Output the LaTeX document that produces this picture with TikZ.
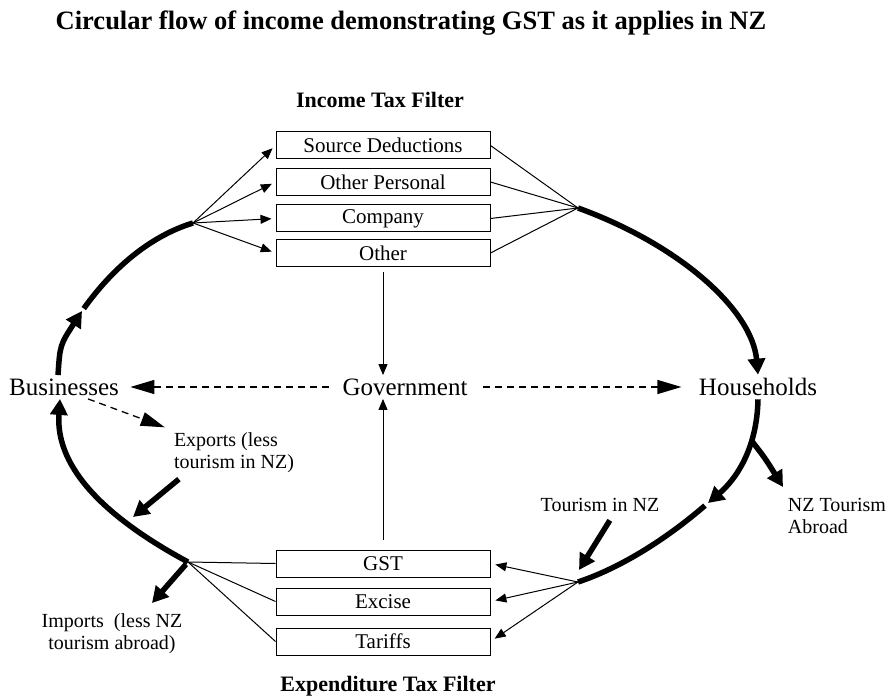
\documentclass[tikz,border=0pt]{standalone}
\usepackage{fontspec}
\setmainfont{Liberation Serif}
\usetikzlibrary{arrows.meta}

\begin{document}
\begin{tikzpicture}[x=1pt,y=-1pt,
	flow/.style={line width=5.5pt,-{Triangle[length=16pt,width=17pt]}},
	band/.style={line width=5.5pt},
	money/.style={line width=1.3pt,dash pattern=on 7pt off 5pt,-{Triangle[length=24pt,width=14pt]}},
	tax/.style={line width=1pt,-{Triangle[length=11pt,width=9pt]}},
	taxbox/.style={draw,line width=1pt,minimum width=214pt,minimum height=27pt,inner sep=0pt,font=\fontsize{21}{21}\selectfont},
	sector/.style={font=\fontsize{25}{25}\selectfont},
	note/.style={font=\fontsize{20}{22}\selectfont,align=left},
	heading/.style={font=\bfseries\fontsize{22}{22}\selectfont}]
	\useasboundingbox (0,0) rectangle (893,700);
	\node[font=\bfseries\fontsize{26.5}{26.5}\selectfont] (title) at (411,23) {Circular flow of income demonstrating GST as it applies in NZ};
	\node[heading] (itf) at (380,100) {Income Tax Filter};
	\node[heading] (etf) at (388,686) {Expenditure Tax Filter};
	\node[taxbox] (src) at (383,145.5) {Source Deductions};
	\node[taxbox] (oper) at (383,182) {Other Personal};
	\node[taxbox] (comp) at (383,218.5) {Company};
	\node[taxbox] (oth) at (383,253) {Other};
	\node[taxbox] (gst) at (383,563.5) {GST};
	\node[taxbox] (exc) at (383,601.5) {Excise};
	\node[taxbox] (tar) at (383,641.5) {Tariffs};
	\node[sector] (bus) at (64,387) {Businesses};
	\node[sector] (gov) at (405,387) {Government};
	\node[sector] (hh) at (758,387) {Households};
	\node[note] (exp) at (234,453) {Exports (less\\tourism in NZ)};
	\node[note,align=center] (imp) at (112,634) {Imports\ \ (less NZ\\tourism abroad)};
	\node[note] (tin) at (600,505) {Tourism in NZ};
	\node[note] (nzt) at (837,516) {NZ Tourism\\Abroad};
	\coordinate (fanTL) at (193,223);
	\coordinate (fanTR) at (578,208);
	\coordinate (fanBR) at (578,582);
	\coordinate (fanBL) at (188,562);
	\coordinate (upL) at (82,311);
	\coordinate (downR) at (708,503);
	\coordinate (split) at (751,440);
	\coordinate (nztTip) at (783,487);
	\coordinate (tinTip) at (579,570);
	\coordinate (expTip) at (133,517);
	\coordinate (impTip) at (152,603);

	\draw[flow] ([xshift=-6pt]bus.north) .. controls (60,345) .. (upL);
	\draw[band,shorten <=3pt] (upL) .. controls (120,258) and (160,233) .. (fanTL);
	\draw[flow] (fanTR) .. controls (680,245) and (752,310) .. (hh.north);
	\draw[flow] (hh.south) .. controls (757,450) and (735,480) .. (downR);
	\draw[flow] (split) .. controls (765,458) .. (nztTip);
	\draw[band,shorten <=4pt] (downR) .. controls (665,540) and (620,568) .. (fanBR);
	\draw[flow] (fanBL) .. controls (110,520) and (55,470) .. ([xshift=-4pt]bus.south);
	\draw[flow,shorten <=6pt] ([xshift=13pt]tin.south) -- (tinTip);
	\draw[flow,shorten <=4pt] ([xshift=-52pt]exp.south) -- (expTip);
	\draw[flow,shorten <=3pt] (fanBL) -- (impTip);

	\draw[money,shorten <=10pt,shorten >=8pt] (gov.west) -- (bus.east);
	\draw[money,shorten <=12pt,shorten >=14pt] (gov.east) -- (hh.west);
	\draw[money,shorten >=6pt] ([xshift=24pt]bus.south) -- (exp.north west);

	\foreach \b in {src,oper,comp,oth}
		\draw[tax,shorten >=4pt] (fanTL) -- (\b.west);
	\foreach \b in {src,oper,comp,oth}
		\draw[line width=1pt] (\b.east) -- (fanTR);
	\foreach \b in {gst,exc,tar}
		\draw[tax,shorten >=5pt] (fanBR) -- (\b.east);
	\foreach \b in {gst,exc,tar}
		\draw[line width=1pt] (fanBL) -- (\b.west);
	\draw[tax,shorten <=5pt] (oth.south) -- (oth.south |- gov.north);
	\draw[tax,shorten <=10pt] (gst.north) -- (gst.north |- gov.south);
\end{tikzpicture}
\end{document}
